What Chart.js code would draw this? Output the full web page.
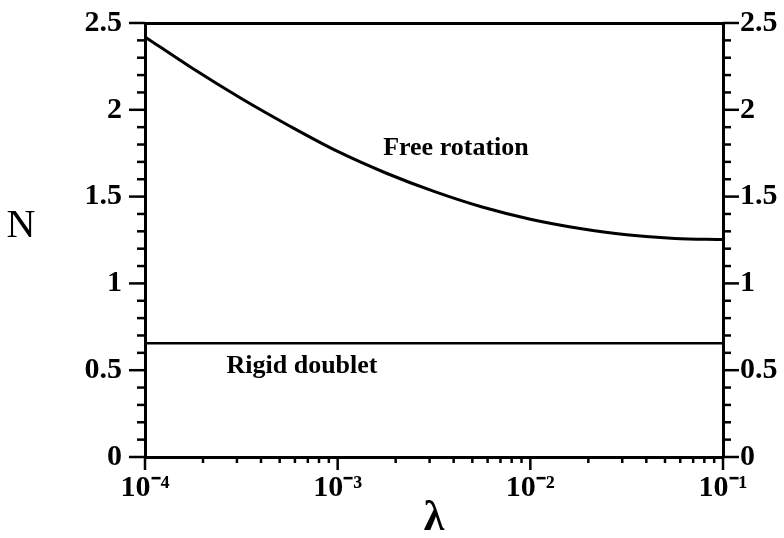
<!DOCTYPE html>
<html>
<head>
<meta charset="utf-8">
<script src="https://cdn.jsdelivr.net/npm/chart.js@4"></script>
<style>
  html, body { margin: 0; padding: 0; background: #fff; }
  #wrap { width: 784px; height: 538px; position: relative; }
</style>
</head>
<body>
<div id="wrap"><canvas id="c"></canvas></div>
<script>
// ---- data ----
const lambdaValues = [1e-4, 1.778e-4, 3.162e-4, 5.623e-4, 1e-3, 1.778e-3, 3.162e-3, 5.623e-3, 1e-2, 1.778e-2, 3.162e-2, 5.623e-2, 1e-1];
const freeRotation = [2.42, 2.236, 2.065, 1.907, 1.76, 1.636, 1.53, 1.44, 1.37, 1.318, 1.28, 1.259, 1.253];
const rigidLambda = [1e-4, 1e-1];
const rigidDoublet = [0.655, 0.655];
const xMajorTicks = [1e-4, 1e-3, 1e-2, 1e-1];
const xTickLabels = ['10⁻⁴', '10⁻³', '10⁻²', '10⁻¹'];
const yTickLabels = ['0', '0.5', '1', '1.5', '2', '2.5'];
const curveLabels = [
  { text: 'Free rotation', x: 4.11e-3, y: 1.74 },
  { text: 'Rigid doublet', x: 6.53e-4, y: 0.484 }
];
const xTitle = 'λ';
const yTitle = 'N';

const SERIF = '"Liberation Serif", "Times New Roman", serif';

function yLabel(v) {
  const k = Math.round(v * 2);
  if (Math.abs(v * 2 - k) < 1e-6) return yTickLabels[k] !== undefined ? yTickLabels[k] : '';
  return '';
}

function buildXTicks(scale) {
  const t = [];
  for (let i = 0; i < xMajorTicks.length; i++) {
    const m = xMajorTicks[i];
    t.push({ value: m, major: true });
    if (i < xMajorTicks.length - 1) {
      for (let k = 2; k <= 9; k++) t.push({ value: m * k, major: false });
    }
  }
  scale.ticks = t;
}

const tickMarks = {
  id: 'tickMarks',
  afterDraw(chart) {
    const ctx = chart.ctx;
    ctx.save();
    ctx.strokeStyle = '#000';
    ctx.lineWidth = 2.5;
    ctx.lineCap = 'butt';
    const sx = chart.scales.x;
    sx.ticks.forEach(t => {
      const px = sx.getPixelForValue(t.value);
      const len = t.major ? 13 : 6;
      ctx.beginPath(); ctx.moveTo(px, sx.top); ctx.lineTo(px, sx.top + len); ctx.stroke();
    });
    ['y', 'y2'].forEach(id => {
      const s = chart.scales[id];
      s.ticks.forEach(t => {
        const py = s.getPixelForValue(t.value);
        const len = yLabel(t.value) !== '' ? 16 : 8;
        ctx.beginPath();
        if (id === 'y') { ctx.moveTo(s.right - len, py); ctx.lineTo(s.right, py); }
        else { ctx.moveTo(s.left, py); ctx.lineTo(s.left + len, py); }
        ctx.stroke();
      });
    });
    // curve labels and axis titles
    ctx.fillStyle = '#000';
    ctx.textAlign = 'center';
    ctx.textBaseline = 'alphabetic';
    ctx.font = 'bold 26px ' + SERIF;
    curveLabels.forEach(l => {
      ctx.fillText(l.text, sx.getPixelForValue(l.x), chart.scales.y.getPixelForValue(l.y));
    });
    const ca = chart.chartArea;
    ctx.textBaseline = 'middle';
    ctx.font = '40px ' + SERIF;
    ctx.fillText(yTitle, ca.left - 124, ca.top + 203);
    ctx.font = 'bold 42px ' + SERIF;
    ctx.fillText(xTitle, (ca.left + ca.right) / 2, ca.bottom + 62);
    ctx.restore();
  }
};

const tickFont = { family: SERIF, size: 30, weight: 'bold' };
const noGrid = { display: true, drawOnChartArea: false, drawTicks: false, color: 'rgba(0,0,0,0)' };
const axisBorder = { display: true, color: '#000', width: 3 };

new Chart(document.getElementById('c'), {
  type: 'line',
  data: {
    datasets: [
      {
        label: 'Free rotation',
        data: lambdaValues.map((x, i) => ({ x, y: freeRotation[i] })),
        borderColor: '#000', borderWidth: 3, pointRadius: 0, fill: false,
        cubicInterpolationMode: 'monotone'
      },
      {
        label: 'Rigid doublet',
        data: rigidLambda.map((x, i) => ({ x, y: rigidDoublet[i] })),
        borderColor: '#000', borderWidth: 2.5, pointRadius: 0, fill: false
      }
    ]
  },
  options: {
    responsive: true,
    maintainAspectRatio: false,
    animation: false,
    layout: { padding: 0 },
    plugins: { legend: { display: false }, tooltip: { enabled: false } },
    scales: {
      x: {
        type: 'logarithmic', position: 'bottom', min: 1e-4, max: 1e-1,
        afterBuildTicks: buildXTicks,
        afterFit(s) { s.height = 81; s.paddingLeft = 0; s.paddingRight = 0; },
        grid: noGrid,
        border: axisBorder,
        ticks: {
          autoSkip: false, maxRotation: 0, minRotation: 0, padding: 13, color: '#000', font: tickFont,
          callback(v) {
            const i = xMajorTicks.findIndex(m => Math.abs(m - v) / m < 1e-6);
            return i >= 0 ? xTickLabels[i] : '';
          }
        }
      },
      x2: {
        type: 'linear', position: 'top', min: 0, max: 1,
        afterFit(s) { s.height = 23; s.paddingLeft = 0; s.paddingRight = 0; },
        grid: noGrid,
        border: axisBorder,
        ticks: { display: false }
      },
      y: {
        type: 'linear', position: 'left', min: 0, max: 2.5,
        afterFit(s) { s.width = 145; s.paddingTop = 0; s.paddingBottom = 0; },
        grid: noGrid,
        border: axisBorder,
        ticks: { stepSize: 0.1, autoSkip: false, padding: 23, color: '#000', font: tickFont, callback: yLabel }
      },
      y2: {
        type: 'linear', position: 'right', min: 0, max: 2.5,
        afterFit(s) { s.width = 61; s.paddingTop = 0; s.paddingBottom = 0; },
        grid: noGrid,
        border: axisBorder,
        ticks: { stepSize: 0.1, autoSkip: false, padding: 17, color: '#000', font: tickFont, callback: yLabel }
      }
    }
  },
  plugins: [tickMarks]
});
</script>
</body>
</html>
